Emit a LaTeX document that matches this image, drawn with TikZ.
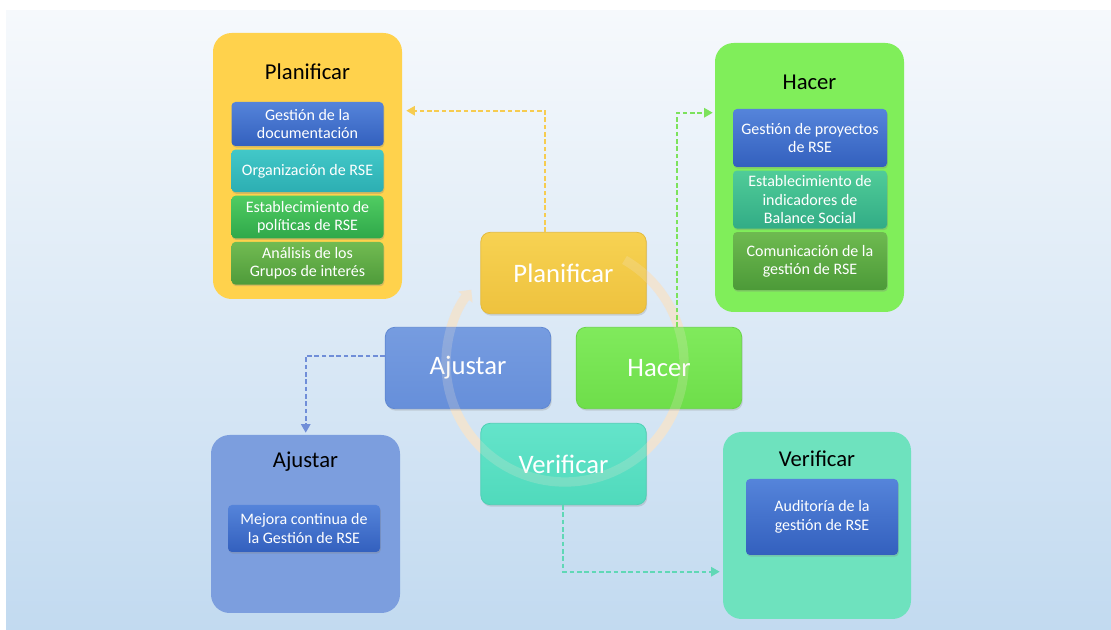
\documentclass[tikz,border=0pt]{standalone}
\usepackage{fontspec}
\setmainfont{Carlito}
\usetikzlibrary{positioning,calc,arrows.meta,shadows}

\definecolor{bgtop}{HTML}{F6F9FC}
\definecolor{bgbot}{HTML}{C2DAF0}
\definecolor{plan}{HTML}{FFD24C}
\definecolor{hacer}{HTML}{80EE5A}
\definecolor{ajust}{HTML}{7C9EDE}
\definecolor{verif}{HTML}{6EE2BE}
\definecolor{ringc}{HTML}{F1E4D3}

\begin{document}
\begin{tikzpicture}[
    x=0.75pt, y=-0.75pt,
    bigbox/.style={rectangle, rounded corners=14pt},
    title/.style={font=\fontsize{17}{20}\selectfont, text=black},
    item/.style={rectangle, rounded corners=3pt, minimum width=114pt, align=center,
        text=white, font=\fontsize{12}{13.8}\selectfont, inner sep=2pt,
        drop shadow={opacity=0.3, shadow xshift=0.6pt, shadow yshift=-1.2pt}},
    cbox/.style={rectangle, rounded corners=7pt, minimum width=124pt, minimum height=61pt,
        text=white, font=\fontsize{20}{24}\selectfont, line width=0.6pt,
        drop shadow={opacity=0.25, shadow xshift=0.8pt, shadow yshift=-1.5pt}},
    link/.style={dash pattern=on 3.5pt off 2pt, line width=1.4pt,
        -{Triangle[width=7pt,length=6.5pt]}},
    ring/.style={line width=7pt, ringc, -{Triangle[width=13pt,length=7pt]}}
]
\useasboundingbox (0,0) rectangle (1111,630);
\fill[white] (0,0) rectangle (1111,630);
\fill[top color=bgtop, bottom color=bgbot] (6,11) rectangle (1111,630);

% Outer boxes
\node[bigbox, fill=plan, minimum width=141.75pt, minimum height=199.5pt] (bigP) at (307.5,166) {};
\node[bigbox, fill=hacer, minimum width=141.75pt, minimum height=201.75pt] (bigH) at (809.5,177.5) {};
\node[bigbox, fill=ajust, minimum width=141.75pt, minimum height=133.5pt] (bigA) at (305.5,524) {};
\node[bigbox, fill=verif, minimum width=141pt, minimum height=140.25pt] (bigV) at (817,525.5) {};

\node[title] (tP) at (307.5,72) {Planificar};
\node[title] (tH) at (809.5,82) {Hacer};
\node[title] (tA) at (305.5,462) {Ajustar};
\node[title] (tV) at (817,459) {Verificar};

% Planificar items
\node[item, minimum height=33pt, top color={rgb,255:red,85;green,132;blue,218}, bottom color={rgb,255:red,51;green,96;blue,190}] (p1) at (307.5,124) {Gestión de la\\documentación};
\node[item, minimum height=32pt, top color={rgb,255:red,66;green,200;blue,200}, bottom color={rgb,255:red,44;green,174;blue,178}, below=2.25pt of p1] (p2) {Organización de RSE};
\node[item, minimum height=32pt, top color={rgb,255:red,80;green,204;blue,98}, bottom color={rgb,255:red,47;green,168;blue,74}, below=2.25pt of p2] (p3) {Establecimiento de\\políticas de RSE};
\node[item, minimum height=32pt, top color={rgb,255:red,114;green,187;blue,82}, bottom color={rgb,255:red,78;green,155;blue,58}, below=2.25pt of p3] (p4) {Análisis de los\\Grupos de interés};

% Hacer items
\node[item, minimum width=115.5pt, minimum height=43.5pt, top color={rgb,255:red,85;green,132;blue,218}, bottom color={rgb,255:red,51;green,96;blue,190}] (h1) at (810,138) {Gestión de proyectos\\de RSE};
\node[item, minimum width=115.5pt, minimum height=43.5pt, top color={rgb,255:red,80;green,204;blue,152}, bottom color={rgb,255:red,50;green,172;blue,134}, below=2.25pt of h1] (h2) {Establecimiento de\\indicadores de\\Balance Social};
\node[item, minimum width=115.5pt, minimum height=43.5pt, top color={rgb,255:red,110;green,186;blue,80}, bottom color={rgb,255:red,76;green,154;blue,56}, below=2.25pt of h2] (h3) {Comunicación de la\\gestión de RSE};

% Ajustar and Verificar items
\node[item, minimum height=35.25pt, top color={rgb,255:red,85;green,132;blue,218}, bottom color={rgb,255:red,51;green,96;blue,190}] (a1) at (304,528.5) {Mejora continua de\\la Gestión de RSE};
\node[item, minimum height=57pt, top color={rgb,255:red,85;green,132;blue,218}, bottom color={rgb,255:red,51;green,96;blue,190}] (v1) at (822,517) {Auditoría de la\\gestión de RSE};

% Cycle ring (under the boxes)
\draw[ring, opacity=0.95] (565,363) ++(60:89.25pt) arc[start angle=60, end angle=-218, radius=89.25pt];

% Central cycle
\node[cbox, top color={rgb,255:red,247;green,210;blue,82}, bottom color={rgb,255:red,238;green,194;blue,62}, draw={rgb,255:red,228;green,186;blue,58}] (cP) at (563.5,273) {Planificar};
\node[cbox, top color={rgb,255:red,118;green,156;blue,224}, bottom color={rgb,255:red,102;green,143;blue,218}, draw={rgb,255:red,96;green,136;blue,210}] (cA) at (468,368) {Ajustar};
\node[cbox, top color={rgb,255:red,128;green,234;blue,92}, bottom color={rgb,255:red,110;green,222;blue,74}, draw={rgb,255:red,104;green,212;blue,70}] (cH) at (659,368) {Hacer};
\node[cbox, top color={rgb,255:red,100;green,228;blue,202}, bottom color={rgb,255:red,80;green,218;blue,188}, draw={rgb,255:red,76;green,208;blue,180}] (cV) at (563.5,464) {Verificar};

% Ring again, faint, over the boxes
\draw[ring, opacity=0.22] (565,363) ++(60:89.25pt) arc[start angle=60, end angle=-218, radius=89.25pt];

% Dashed links
\draw[link, color={rgb,255:red,246;green,204;blue,80}] ($(cP.north)+(-18.5,0)$) |- ($(bigP.north east)+(4,78)$);
\draw[link, color={rgb,255:red,124;green,226;blue,92}] ($(cH.north)+(18,0)$) |- ($(bigH.north west)+(-2,70)$);
\draw[link, color={rgb,255:red,112;green,142;blue,216}] ($(cA.west)+(0,-12)$) -| ($(bigA.north west)+(95,-2)$);
\draw[link, color={rgb,255:red,96;green,216;blue,182}] ($(cV.south)+(-0.5,0)$) |- ($(bigV.north west)+(-3,140)$);

\end{tikzpicture}
\end{document}
